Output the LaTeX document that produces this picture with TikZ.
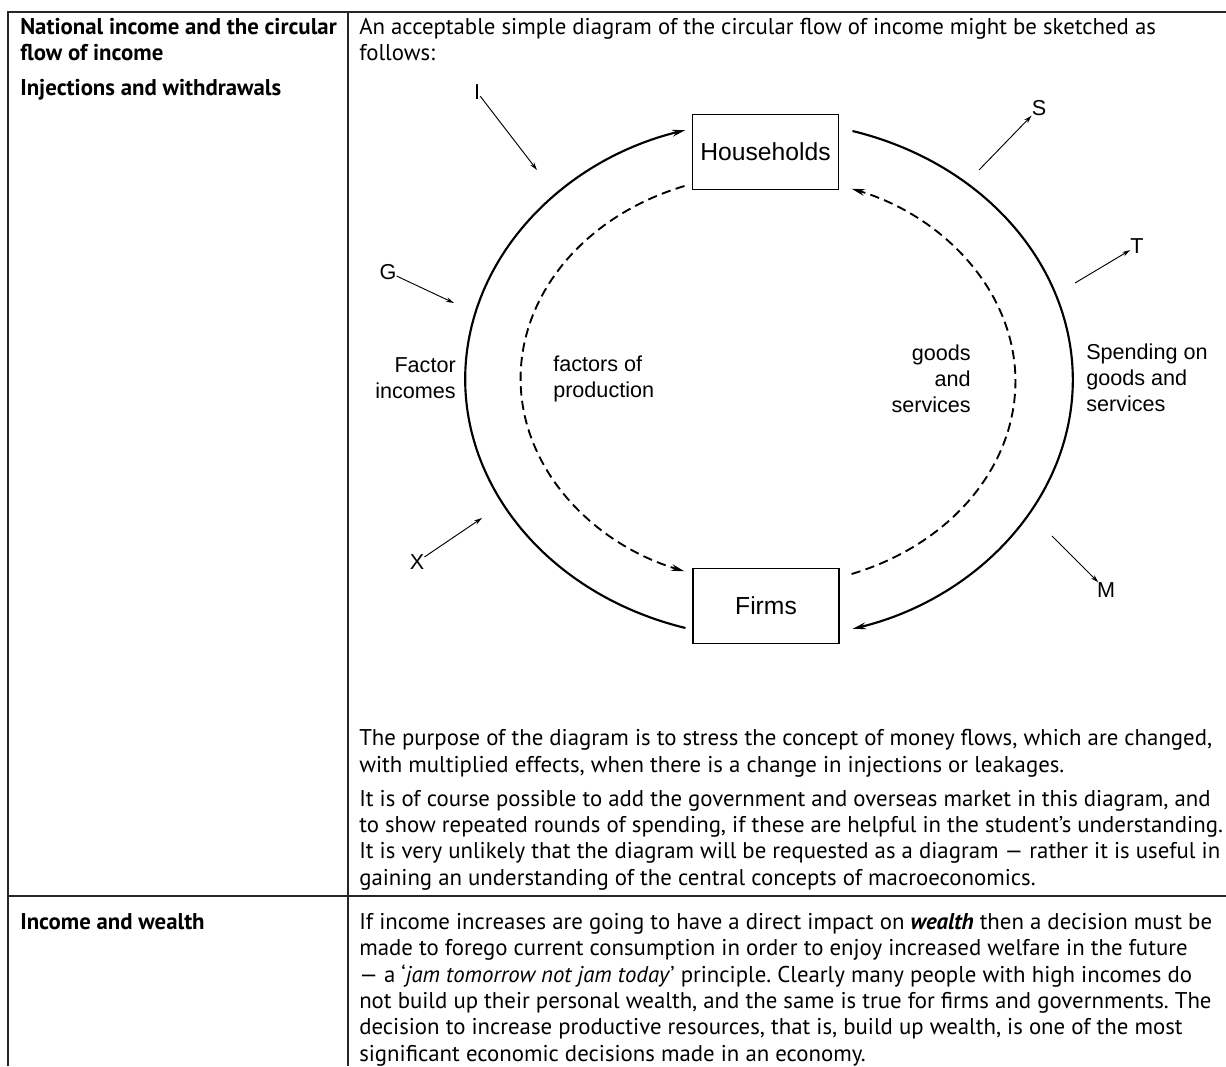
\documentclass[tikz,border=0pt]{standalone}
\usepackage{fontspec}
\setmainfont{PT Sans}
\newfontfamily\arialfont{Liberation Sans}
\usetikzlibrary{arrows.meta}
\frenchspacing

\begin{document}
\begin{tikzpicture}[x=0.75pt, y=-0.75pt,
    rule/.style={line width=1.3pt, black!85},
    body/.style={font=\fontsize{17.1}{19.7}\selectfont, align=left, anchor=base west, inner sep=0pt},
    head/.style={body, font=\fontsize{17.1}{19.7}\selectfont\bfseries},
    box/.style={draw, line width=0.8pt, minimum width=109.5pt, minimum height=56pt,
      font=\arialfont\fontsize{18.5}{22}\selectfont},
    lbl/.style={font=\arialfont\fontsize{16.2}{19.5}\selectfont, inner sep=0pt},
    flow/.style={line width=1.6pt, -{Stealth[length=10pt, width=5pt]}},
    dflow/.style={flow, line width=1.4pt, dash pattern=on 7pt off 4pt},
    inj/.style={line width=0.7pt, -{Stealth[length=6pt, width=3.5pt]}}]
  \useasboundingbox (0,0) rectangle (1226,1066);

  % table rules
  \draw[rule] (8,1066) -- (8,12) -- (1226,12);
  \draw[rule] (348,12) -- (348,1066);
  \draw[rule] (8,896) -- (1226,896);

  % left column (base = last line)
  \node[head] (topic1) at (20,61) {National income and the circular\\flow of income};
  \node[head] (topic2) at (20,96) {Injections and withdrawals};
  \node[head] (topic3) at (20,929) {Income and wealth};

  % right column
  \node[body] (intro) at (359,61)
    {An acceptable simple diagram of the circular flow of income might be sketched as\\follows:};
  \node[body] (purpose) at (359,772)
    {The purpose of the diagram is to stress the concept of money flows, which are changed,\\
     with multiplied effects, when there is a change in injections or leakages.};
  \node[body] (course) at (359,885)
    {It is of course possible to add the government and overseas market in this diagram, and\\
     to show repeated rounds of spending, if these are helpful in the student’s understanding.\\
     It is very unlikely that the diagram will be requested as a diagram — rather it is useful in\\
     gaining an understanding of the central concepts of macroeconomics.};
  \node[body] (wealth) at (359,1061)
    {If income increases are going to have a direct impact on \textbf{\textit{wealth}} then a decision must be\\
     made to forego current consumption in order to enjoy increased welfare in the future\\
     — a ‘\textit{jam tomorrow not jam today}’ principle. Clearly many people with high incomes do\\
     not build up their personal wealth, and the same is true for firms and governments. The\\
     decision to increase productive resources, that is, build up wealth, is one of the most\\
     significant economic decisions made in an economy.};

  % the circular flow
  \node[box] (hh) at (765.5,152) {Households};
  \node[box] (firms) at (766,606) {Firms};

  \draw[flow] ([shift={(-7,22)}]firms.west)
    arc[start angle=106, end angle=254, x radius=304, y radius=259];
  \draw[flow] ([shift={(13.5,-21)}]hh.east)
    arc[start angle=-74, end angle=74, x radius=304, y radius=259];
  \draw[dflow] ([shift={(-7.5,34)}]hh.west)
    arc[start angle=250, end angle=110, x radius=249, y radius=205];
  \draw[dflow] ([shift={(12,-32)}]firms.east)
    arc[start angle=70, end angle=-70, x radius=249, y radius=205];

  \node[lbl, align=right, anchor=base east] (facinc) at (456,398) {Factor\\incomes};
  \node[lbl, align=left, anchor=base west] (facprod) at (553,397) {factors of\\production};
  \node[lbl, align=right, anchor=base east] (goods) at (971,412) {goods\\and\\services};
  \node[lbl, align=left, anchor=base west] (spend) at (1086,411) {Spending on\\goods and\\services};

  % injections
  \node[lbl] (lI) at (477,92) {I};
  \node[lbl] (lG) at (388,272) {G};
  \node[lbl] (lX) at (417,562) {X};
  \coordinate (I-in) at (537,170);
  \coordinate (G-in) at (454,303);
  \coordinate (X-in) at (482,518);
  \draw[inj] ([shift={(15,20)}]lI) -- (I-in);
  \draw[inj] ([shift={(10,10)}]lG) -- (G-in);
  \draw[inj] ([shift={(13,-10)}]lX) -- (X-in);

  % withdrawals
  \node[lbl] (lS) at (1039,108) {S};
  \node[lbl] (lT) at (1137,246) {T};
  \node[lbl] (lM) at (1106,590) {M};
  \coordinate (S-out) at (979,170);
  \coordinate (T-out) at (1075,283);
  \coordinate (M-out) at (1052,536);
  \draw[inj] (S-out) -- ([shift={(-17,14)}]lS);
  \draw[inj] (T-out) -- ([shift={(-9,7)}]lT);
  \draw[inj] (M-out) -- ([shift={(-9,-15)}]lM);
\end{tikzpicture}
\end{document}
